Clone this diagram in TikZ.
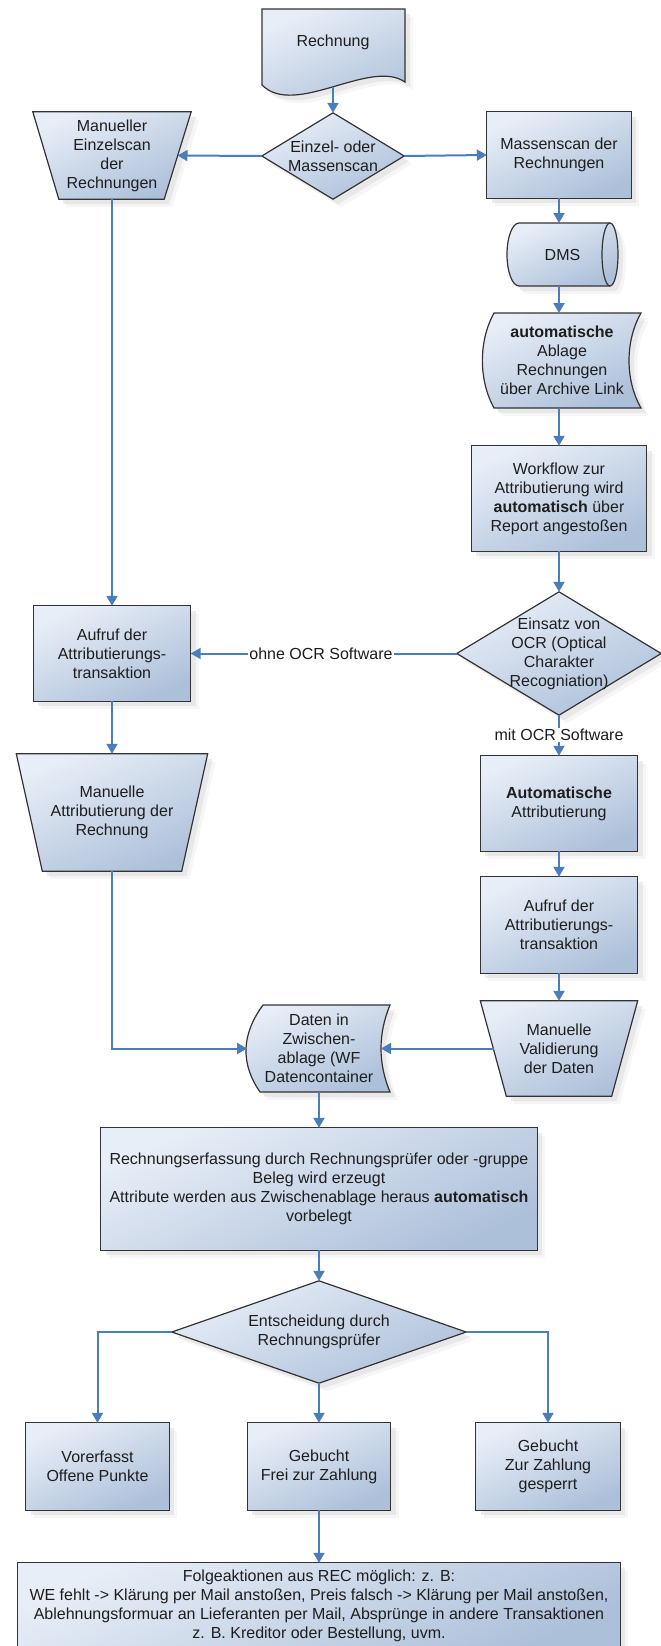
\documentclass[tikz,border=0pt]{standalone}
\usepackage{fontspec}
\setmainfont{Liberation Sans}
\usetikzlibrary{arrows.meta,shadows,calc}
\definecolor{fillA}{HTML}{E8EEF7}
\definecolor{fillB}{HTML}{ADC0DA}
\definecolor{bord}{HTML}{333333}
\definecolor{arr}{HTML}{4A7EBB}
\definecolor{txtc}{HTML}{1E1E1E}
\definecolor{shadA}{HTML}{EDEDED}
\definecolor{shadB}{HTML}{DCDCDC}
\pgfdeclarelayer{bg}
\pgfsetlayers{bg,main}
\begin{document}
\begin{tikzpicture}[x=1pt,y=-1pt,
  shp/.style={draw=bord, line width=1.2pt, top color=fillA, bottom color=fillB, shading angle=25,
    drop shadow={shadow xshift=8pt,shadow yshift=-8pt,fill=shadA,draw=none},
    drop shadow={shadow xshift=5pt,shadow yshift=-5pt,fill=shadB,draw=none}},
  txt/.style={align=center, text=txtc, font=\fontsize{16}{19}\selectfont, inner sep=0pt},
  box/.style={txt, rectangle},
  conn/.style={draw=arr, line width=2pt, -{Triangle[length=10pt,width=11pt]}},
  lbl/.style={txt, fill=white, inner sep=1.5pt},
]
\useasboundingbox (0,0) rectangle (661,1646);
\clip (0,0) rectangle (661,1646);

% ---------- nodes ----------
\node[txt] (rech) at (333,42) {Rechnung};
\node[txt, minimum width=142pt, minimum height=86pt] (d1) at (333,156) {Einzel- oder\\Massenscan};
\node[txt, minimum width=158pt, minimum height=87pt] (m1) at (112,155.5) {Manueller\\Einzelscan\\der\\Rechnungen};
\node[box, minimum width=144pt, minimum height=86pt] (ms) at (559,155) {Massenscan der\\Rechnungen};
\node[txt, minimum width=111pt, minimum height=63pt] (dms) at (562.5,254.5) {DMS};
\node[txt, minimum width=158pt, minimum height=95pt] (ab) at (562,360.5) {\textbf{automatische}\\Ablage\\Rechnungen\\über Archive Link};
\node[box, minimum width=175pt, minimum height=105pt] (wf) at (559,498.5) {Workflow zur\\Attributierung wird\\\textbf{automatisch} über\\Report angestoßen};
\node[txt, minimum width=204pt, minimum height=123pt] (d2) at (559,653.5) {Einsatz von\\OCR (Optical\\Charakter\\Recogniation)};
\node[box, minimum width=157pt, minimum height=95pt] (a1) at (112,653.5) {Aufruf der\\Attributierungs-\\transaktion};
\node[txt, minimum width=191pt, minimum height=117pt] (m2) at (112,812.5) {Manuelle\\Attributierung der\\Rechnung};
\node[box, minimum width=157pt, minimum height=95pt] (aa) at (559,803.5) {\textbf{Automatische}\\Attributierung};
\node[box, minimum width=157pt, minimum height=96pt] (a2) at (559,925) {Aufruf der\\Attributierungs-\\transaktion};
\node[txt, minimum width=157pt, minimum height=95pt] (m3) at (559,1048.5) {Manuelle\\Validierung\\der Daten};
\node[txt, minimum width=143pt, minimum height=87pt] (dz) at (319,1048.5) {Daten in\\Zwischen-\\ablage (WF\\Datencontainer};
\node[box, minimum width=436pt, minimum height=122pt] (rb) at (319,1189) {Rechnungserfassung durch Rechnungsprüfer oder -gruppe\\Beleg wird erzeugt\\Attribute werden aus Zwischenablage heraus \textbf{automatisch}\\vorbelegt};
\node[txt, minimum width=294pt, minimum height=102pt] (d3) at (319,1332) {Entscheidung durch\\Rechnungsprüfer};
\node[box, minimum width=143pt, minimum height=87pt] (b1) at (97.5,1466.5) {Vorerfasst\\Offene Punkte};
\node[box, minimum width=143pt, minimum height=87pt] (b2) at (319,1466.5) {Gebucht\\Frei zur Zahlung};
\node[box, minimum width=144pt, minimum height=87pt] (b3) at (548,1466.5) {Gebucht\\Zur Zahlung\\gesperrt};
\node[box, minimum width=602pt, minimum height=86pt] (fb) at (319,1606) {Folgeaktionen aus REC möglich: z. B:\\WE fehlt -> Klärung per Mail anstoßen, Preis falsch -> Klärung per Mail anstoßen,\\Ablehnungsformuar an Lieferanten per Mail, Absprünge in andere Transaktionen\\z. B. Kreditor oder Bestellung, uvm.};

% ---------- shapes behind the texts ----------
\begin{pgfonlayer}{bg}
% rectangles (process boxes)
\foreach \n in {ms,wf,a1,aa,a2,rb,b1,b2,b3,fb}
  \path[shp] (\n.north west) rectangle (\n.south east);
% document
\path[shp] (262,9) -- (405,9) -- (405,82) .. controls (370,58) and (295,118) .. (262,85) -- cycle;
% diamonds
\path[shp] (d1.north) -- (d1.east) -- (d1.south) -- (d1.west) -- cycle;
\path[shp] (d2.north) -- (d2.east) -- (d2.south) -- (d2.west) -- cycle;
\path[shp] (d3.north) -- (d3.east) -- (d3.south) -- (d3.west) -- cycle;
% manual operations
\path[shp] (m1.north west) -- (m1.north east) -- ([xshift=-27pt]m1.south east) -- ([xshift=26pt]m1.south west) -- cycle;
\path[shp] (m2.north west) -- (m2.north east) -- ([xshift=-26pt]m2.south east) -- ([xshift=26pt]m2.south west) -- cycle;
\path[shp] (m3.north west) -- (m3.north east) -- ([xshift=-26pt]m3.south east) -- ([xshift=26pt]m3.south west) -- cycle;
% DMS cylinder
\path[shp] (519,223) -- (610,223) arc[start angle=90,end angle=-90,x radius=8pt,y radius=31.5pt]
  -- (519,286) arc[start angle=-90,end angle=-270,x radius=12pt,y radius=31.5pt] -- cycle;
\draw[draw=bord, line width=1.2pt] (610,223) arc[start angle=90,end angle=270,x radius=8pt,y radius=31.5pt];
% stored data shapes
\path[shp] (494,313) -- (641,313) .. controls (625,341) and (625,380) .. (641,408)
  -- (494,408) .. controls (478.5,380) and (478.5,341) .. (494,313) -- cycle;
\path[shp] (263,1005) -- (390,1005) .. controls (378,1034) and (378,1063) .. (390,1092)
  -- (260,1092) .. controls (240,1063) and (241.7,1034) .. (263,1005) -- cycle;
\end{pgfonlayer}

% ---------- connectors ----------
\coordinate (rechb) at (333,87);
\coordinate (m1e) at (177.5,155.5);
\coordinate (dmst) at (559,223);
\coordinate (dmsb) at (559,286);
\coordinate (abt) at (559,313);
\coordinate (abb) at (559,408);
\coordinate (dzw) at (247,1048.5);
\coordinate (dze) at (381,1048.5);
\coordinate (m3w) at (493.5,1048.5);

\draw[conn] (rechb) -- (d1.north);
\draw[conn] (d1.west) -- (m1e);
\draw[conn] (d1.east) -- (ms.west);
\draw[conn] (ms.south) -- (dmst);
\draw[conn] (dmsb) -- (abt);
\draw[conn] (abb) -- (wf.north);
\draw[conn] (wf.south) -- (d2.north);
\draw[conn] (m1.south) -- (a1.north);
\draw[conn] (d2.west) -- (a1.east);
\node[lbl] (ohne) at (321,653.5) {ohne OCR Software};
\draw[conn] (d2.south) -- (aa.north);
\node[lbl] (mit) at (559,735) {mit OCR Software};
\draw[conn] (a1.south) -- (m2.north);
\draw[conn] (aa.south) -- (a2.north);
\draw[conn] (a2.south) -- (m3.north);
\draw[conn] (m2.south) |- (dzw);
\draw[conn] (m3w) -- (dze);
\draw[conn] (dz.south) -- (rb.north);
\draw[conn] (rb.south) -- (d3.north);
\draw[conn] (d3.west) -| (b1.north);
\draw[conn] (d3.south) -- (b2.north);
\draw[conn] (d3.east) -| (b3.north);
\draw[conn] (b2.south) -- (fb.north);
\end{tikzpicture}
\end{document}
